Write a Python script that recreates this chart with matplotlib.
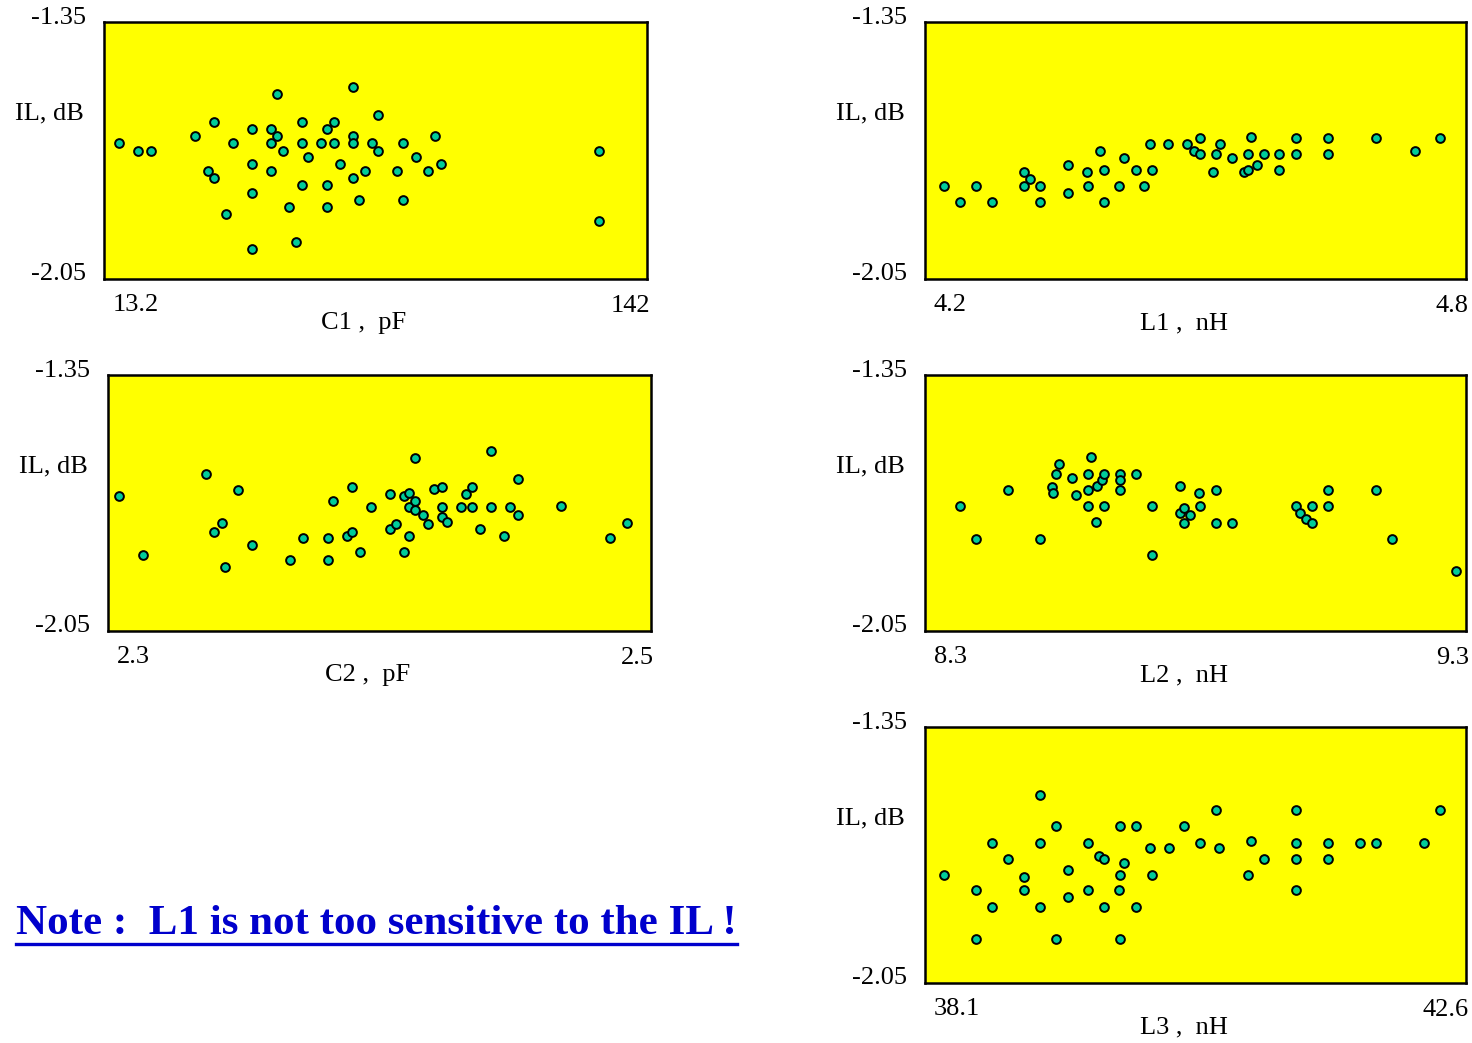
import matplotlib
matplotlib.use("Agg")
import matplotlib.pyplot as plt
from matplotlib.lines import Line2D

plt.rcParams['font.family'] = ['Liberation Serif', 'DejaVu Serif']

# IL limits shared by all panels
il_lo, il_hi = -2.05, -1.35

# C1, pF
c1_x = [16.85, 21.35, 24.3, 34.8, 39.3, 43.7, 48.2, 52.7, 54.2, 52.7,
        54.2, 55.7, 60.2, 60.2, 61.7, 64.7, 66.2, 67.8, 67.8, 72.2,
        72.2, 72.2, 76.7, 78.2, 78.2, 84.1, 87.1, 91.6, 93.1, 90.1,
        82.6, 84.1, 75.1, 73.7, 72.2, 69.2, 66.2, 66.2, 60.2, 57.2,
        58.8, 52.7, 48.2, 48.2, 48.2, 42.2, 37.8, 39.3, 130.5, 130.5]
c1_il = [-1.680, -1.700, -1.700, -1.661, -1.623, -1.680, -1.642, -1.642, -1.661, -1.680,
         -1.546, -1.700, -1.623, -1.680, -1.719, -1.680, -1.642, -1.623, -1.680, -1.527,
         -1.661, -1.680, -1.680, -1.604, -1.700, -1.680, -1.719, -1.661, -1.738, -1.757,
         -1.757, -1.834, -1.757, -1.834, -1.776, -1.738, -1.795, -1.853, -1.795, -1.853,
         -1.949, -1.757, -1.738, -1.815, -1.968, -1.872, -1.757, -1.776, -1.700, -1.891]

# L1, nH
l1_x = [4.221, 4.239, 4.257, 4.274, 4.310, 4.317, 4.310, 4.328, 4.328, 4.359,
        4.359, 4.380, 4.381, 4.394, 4.398, 4.398, 4.415, 4.421, 4.434, 4.443,
        4.450, 4.452, 4.470, 4.491, 4.498, 4.505, 4.505, 4.527, 4.523, 4.540,
        4.519, 4.554, 4.558, 4.558, 4.561, 4.568, 4.576, 4.593, 4.593, 4.612,
        4.612, 4.647, 4.647, 4.700, 4.743, 4.771]
l1_il = [-1.797, -1.841, -1.797, -1.841, -1.758, -1.777, -1.797, -1.797, -1.841, -1.739,
         -1.816, -1.758, -1.797, -1.700, -1.754, -1.841, -1.797, -1.721, -1.754, -1.797,
         -1.681, -1.754, -1.681, -1.681, -1.700, -1.666, -1.710, -1.681, -1.710, -1.721,
         -1.758, -1.758, -1.754, -1.710, -1.662, -1.739, -1.710, -1.710, -1.754, -1.666,
         -1.710, -1.666, -1.710, -1.666, -1.700, -1.666]

# C2, pF
c2_x = [2.304, 2.313, 2.336, 2.339, 2.342, 2.343, 2.348, 2.353, 2.367, 2.372,
        2.381, 2.381, 2.383, 2.388, 2.390, 2.390, 2.393, 2.397, 2.404, 2.404,
        2.406, 2.409, 2.409, 2.411, 2.411, 2.411, 2.413, 2.413, 2.413, 2.416,
        2.418, 2.420, 2.423, 2.423, 2.423, 2.425, 2.430, 2.432, 2.434, 2.434,
        2.437, 2.441, 2.441, 2.446, 2.448, 2.451, 2.451, 2.467, 2.485, 2.491]
c2_il = [-1.681, -1.842, -1.622, -1.778, -1.754, -1.874, -1.665, -1.816, -1.855, -1.797,
         -1.797, -1.855, -1.694, -1.789, -1.778, -1.655, -1.835, -1.712, -1.675, -1.770,
         -1.758, -1.681, -1.835, -1.673, -1.712, -1.789, -1.578, -1.694, -1.720, -1.732,
         -1.758, -1.662, -1.655, -1.712, -1.739, -1.751, -1.712, -1.675, -1.655, -1.712,
         -1.770, -1.559, -1.712, -1.789, -1.712, -1.635, -1.732, -1.709, -1.797, -1.754]

# L2, nH
l2_x = [8.364, 8.394, 8.453, 8.513, 8.534, 8.536, 8.542, 8.548, 8.571, 8.580,
        8.601, 8.601, 8.601, 8.606, 8.616, 8.618, 8.627, 8.631, 8.631, 8.661,
        8.661, 8.661, 8.690, 8.719, 8.719, 8.772, 8.771, 8.779, 8.779, 8.790,
        8.806, 8.808, 8.838, 8.838, 8.868, 8.986, 8.993, 9.004, 9.015, 9.015,
        9.045, 9.045, 9.134, 9.163, 9.282]
l2_il = [-1.709, -1.798, -1.665, -1.798, -1.656, -1.672, -1.622, -1.594, -1.632, -1.677,
         -1.622, -1.665, -1.709, -1.575, -1.752, -1.653, -1.638, -1.622, -1.709, -1.622,
         -1.638, -1.665, -1.622, -1.709, -1.842, -1.653, -1.728, -1.715, -1.754, -1.734,
         -1.672, -1.709, -1.665, -1.754, -1.754, -1.709, -1.726, -1.745, -1.709, -1.754,
         -1.665, -1.709, -1.665, -1.798, -1.886]

# L3, nH
l3_x = [38.255, 38.525, 38.525, 38.657, 38.657, 38.791, 38.923, 38.923, 39.058, 39.058,
        39.058, 39.190, 39.190, 39.292, 39.292, 39.457, 39.457, 39.550, 39.588, 39.588,
        39.712, 39.720, 39.720, 39.720, 39.758, 39.855, 39.855, 39.972, 39.987, 40.128,
        40.256, 40.388, 40.520, 40.547, 40.787, 40.810, 40.922, 41.188, 41.188, 41.188,
        41.188, 41.452, 41.452, 41.719, 41.853, 42.252, 42.387]
l3_il = [-1.754, -1.797, -1.929, -1.666, -1.842, -1.710, -1.759, -1.797, -1.535, -1.666,
         -1.842, -1.622, -1.929, -1.740, -1.816, -1.666, -1.797, -1.702, -1.710, -1.842,
         -1.797, -1.622, -1.754, -1.929, -1.721, -1.622, -1.842, -1.682, -1.754, -1.682,
         -1.622, -1.666, -1.578, -1.682, -1.754, -1.663, -1.710, -1.578, -1.666, -1.710,
         -1.797, -1.666, -1.710, -1.666, -1.666, -1.666, -1.578]

panels = [
    # (x, y, xmin label, xmax label, axis title, frame px: left, top, right, bottom)
    (c1_x, c1_il, 13.2, 142, "C1 ,  pF", (104, 22, 647, 279)),
    (l1_x, l1_il, 4.2, 4.8, "L1 ,  nH", (925, 22, 1466, 279)),
    (c2_x, c2_il, 2.3, 2.5, "C2 ,  pF", (108, 375, 651, 631)),
    (l2_x, l2_il, 8.3, 9.3, "L2 ,  nH", (925, 375, 1466, 631)),
    (l3_x, l3_il, 38.1, 42.6, "L3 ,  nH", (925, 727, 1466, 983)),
]

W, H = 1472, 1043
fig = plt.figure(figsize=(W / 100, H / 100), dpi=100)
fig.patch.set_facecolor('white')

fs = 19

def fx(px):
    return px / W

def fy(py):
    return 1 - py / H

for xs, ys, xmin, xmax, title, (l, t, r, b) in panels:
    ax = fig.add_axes([fx(l), fy(b), fx(r - l), (b - t) / H])
    ax.set_facecolor('#FFFF00')
    ax.plot(xs, ys, 'o', ms=6.3, mfc='#00CC99', mec='black', mew=1.4, ls='none')
    ax.set_xlim(xmin, xmax)
    ax.set_ylim(il_lo, il_hi)
    ax.set_xticks([])
    ax.set_yticks([])
    for s in ax.spines.values():
        s.set_linewidth(1.8)
        s.set_color('black')

    fig.text(fx(l - 18), fy(t - 4), f"{il_hi:.2f}", ha='right', va='center', fontsize=fs)
    fig.text(fx(l - 18), fy(b - 5), f"{il_lo:.2f}", ha='right', va='center', fontsize=fs)
    fig.text(fx(l - 20), fy(t + 91), "IL, dB", ha='right', va='center', fontsize=fs)
    fig.text(fx(l + 9), fy(b + 26), f"{xmin:g}", ha='left', va='center', fontsize=fs)
    fig.text(fx(r + 3), fy(b + 27), f"{xmax:g}", ha='right', va='center', fontsize=fs)
    fig.text(fx((l + r) / 2 - 12), fy(b + 44), title, ha='center', va='center', fontsize=fs)

note = fig.text(fx(16), fy(924), "Note :  L1 is not too sensitive to the IL !",
                ha='left', va='center', fontsize=31, fontweight='bold', color='#0000CC')

# underline under the note
fig.canvas.draw()
bb = note.get_window_extent(renderer=fig.canvas.get_renderer())
uy = fy(944)
fig.add_artist(Line2D([bb.x0 / W, bb.x1 / W], [uy, uy], color='#0000CC', lw=2.4))

fig.savefig('out.png', dpi=100)
